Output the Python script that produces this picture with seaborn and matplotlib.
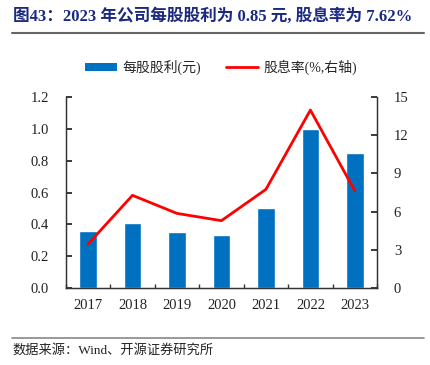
import numpy as np
import pandas as pd
import seaborn as sns
import matplotlib.pyplot as plt
from matplotlib.patches import Patch
from matplotlib.lines import Line2D

years = ["2017", "2018", "2019", "2020", "2021", "2022", "2023"]
dps = [0.36, 0.41, 0.35, 0.33, 0.50, 1.00, 0.85]
yield_pct = [3.45, 7.28, 5.86, 5.29, 7.75, 13.98, 7.62]

df = pd.DataFrame({"year": years, "dps": dps, "yield": yield_pct})

sns.set_theme(style="ticks")
plt.rcParams["font.family"] = ["Liberation Serif", "Noto Sans CJK SC", "DejaVu Sans"]

fig, ax = plt.subplots(figsize=(4.3, 3.65), dpi=100)
fig.subplots_adjust(left=0.153, right=0.877, top=0.734, bottom=0.211)

sns.barplot(data=df, x="year", y="dps", color="#0070C0", saturation=1,
            width=0.4, ax=ax)
ax.set_xlim(-0.5, 6.5)
ax.set_ylim(0, 1.2)
ax.set_yticks(np.arange(0, 1.21, 0.2))
ax.set_yticklabels([f"{v:.1f}" for v in np.arange(0, 1.21, 0.2)])
ax.set_xlabel("")
ax.set_ylabel("")

ax2 = ax.twinx()
sns.lineplot(x=np.arange(len(years)), y=yield_pct, color="#FF0000", lw=2, ax=ax2)
ax2.set_ylim(0, 15)
ax2.set_yticks(range(0, 16, 3))
ax2.set_ylabel("")

# category boundary ticks on the x axis
ax.set_xticks(np.arange(-0.5, 7, 1), minor=True)
ax.tick_params(axis="x", which="major", length=0, labelsize=10.5, colors="#222222", pad=8)
ax.tick_params(axis="x", which="minor", length=3, direction="in", color="#333333")
ax.tick_params(axis="y", direction="in", length=4, labelsize=10.5, colors="#222222", pad=12)
ax2.tick_params(axis="y", direction="in", length=4, labelsize=10.5, colors="#222222", pad=12)
for a in (ax, ax2):
    a.spines["top"].set_visible(False)
    for s in ("left", "right", "bottom"):
        a.spines[s].set_color("#333333")
        a.spines[s].set_linewidth(0.9)
for lab in ax.get_xticklabels() + ax.get_yticklabels() + ax2.get_yticklabels():
    lab.set_color("#222222")

handles = [Patch(facecolor="#0070C0", edgecolor="none"),
           Line2D([0], [0], color="#FF0000", lw=2)]
fig.legend(handles, ["每股股利(元)", "股息率(%,右轴)"], loc="center",
           bbox_to_anchor=(0.515, 0.815), ncol=2, frameon=False,
           handlelength=2.3, handleheight=0.55, handletextpad=0.4, columnspacing=1.8,
           prop={"family": ["Liberation Serif", "Noto Sans CJK SC"], "size": 10})

fig.text(0.03, 0.955, "图43：2023 年公司每股股利为 0.85 元, 股息率为 7.62%",
         fontsize=12, fontweight="bold", color="#1B2A80", va="center")
fig.add_artist(Line2D([0.028, 0.985], [0.91, 0.91], transform=fig.transFigure,
                      color="#666666", lw=1.5))
fig.add_artist(Line2D([0.028, 0.985], [0.075, 0.075], transform=fig.transFigure,
                      color="#888888", lw=1.2))
fig.text(0.03, 0.04, "数据来源：Wind、开源证券研究所", fontsize=9.5,
         color="#222222", va="center")

fig.savefig("out.png", dpi=100)
